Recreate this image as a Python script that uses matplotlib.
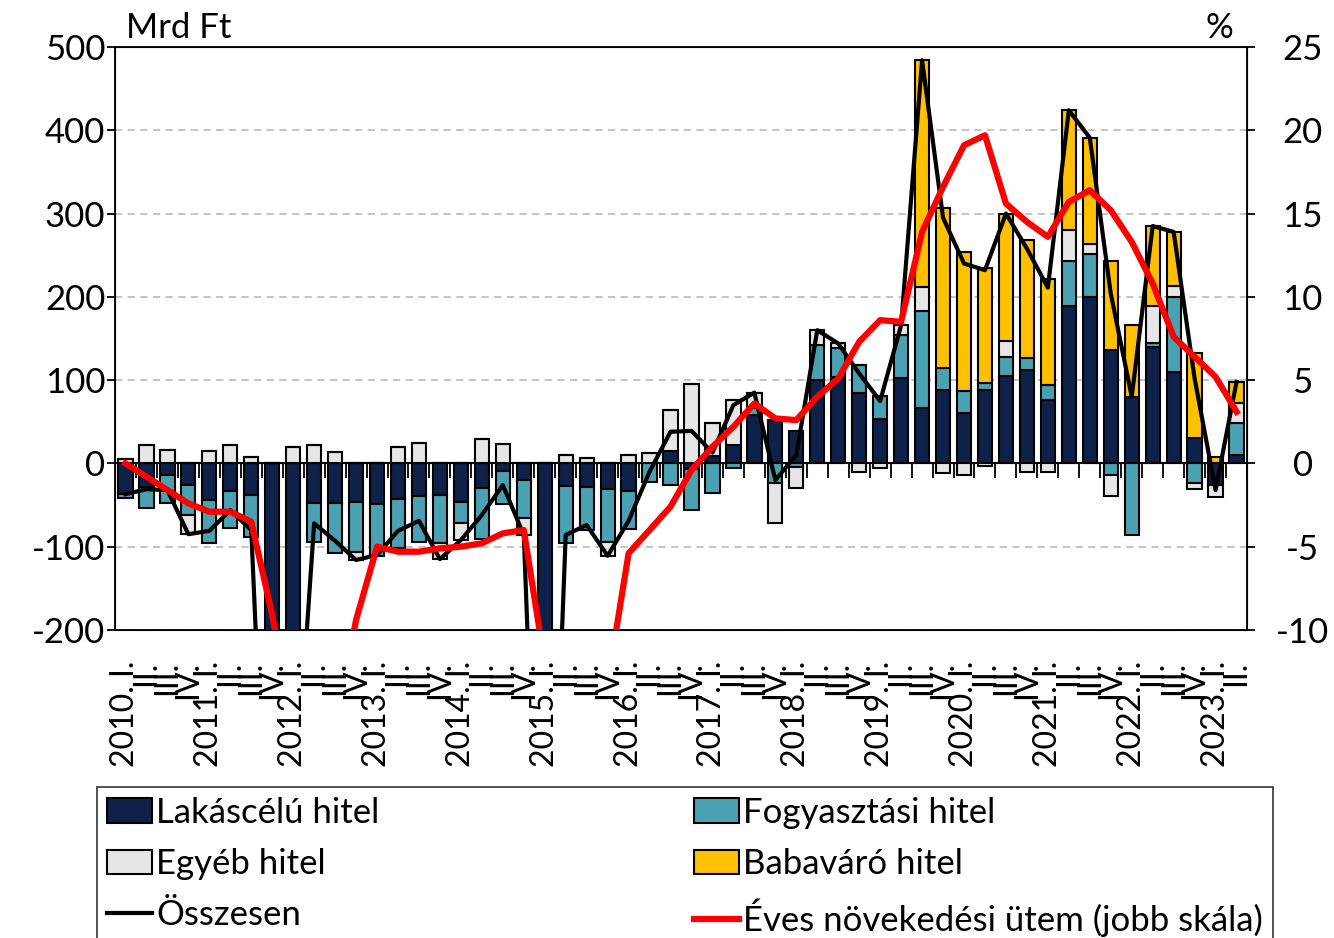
import matplotlib
matplotlib.use('Agg')
import matplotlib.pyplot as plt
import numpy as np
from matplotlib.patches import Patch
from matplotlib.lines import Line2D

plt.rcParams['font.family'] = ['Lato', 'DejaVu Sans']
plt.rcParams['axes.unicode_minus'] = False

# quarterly flows, Mrd Ft (2010 Q1 .. 2023 Q2)
lakas = [-37, -28, -14, -26, -44, -33, -38, -620, -430, -47, -48, -46, -49, -43,
         -39, -38, -46, -30, -9, -20, -720, -27, -28, -31, -33, 0, 15, -7,
         9, 22, 58, 52, 39, 100, 104, 84, 53, 102, 67, 88, 60, 88, 105, 112,
         76, 189, 200, 136, 80, 140, 110, 31, -26, 10]
fogyasztasi = [-5, -25, -34, -36, -52, -45, -50, -30, -30, -47, -59, -60, -62, -58,
               -55, -58, -25, -61, -40, -46, -20, -69, -52, -63, -46, -22, -26, -49,
               -35, -6, 8, -24, -4, 42, 34, 34, 28, 52, 116, 27, 27, 8, 23, 14,
               18, 54, 52, -14, -86, 5, 90, -24, 0, 39]
egyeb = [5, 22, 16, -23, 15, 22, 8, 0, 20, 22, 14, -10, 1, 20,
         25, -19, -21, 29, 23, -20, 0, 10, 6, -17, 10, 12, 49, 95,
         39, 54, 19, -48, -25, 18, 6, -10, -6, 12, 29, -12, -14, -3, 19, -10,
         -10, 37, 11, -25, 0, 44, 13, -7, -14, 23]
babavaro = [0] * 38 + [272, 192, 167, 139, 153, 142, 127, 144, 128, 107, 86, 96, 65, 102, 8, 26]

# annual growth rate, % (right scale)
eves = [0.0, -0.8, -1.6, -2.4, -2.9, -2.9, -3.5, -9.1, -16.0, -16.5, -16.0, -9.4, -5.0, -5.3,
        -5.3, -5.1, -5.0, -4.8, -4.2, -4.0, -12.0, -13.0, -13.5, -13.2, -5.4, -4.0, -2.6, -0.4,
        1.0, 2.2, 3.6, 2.7, 2.6, 4.0, 5.1, 7.3, 8.6, 8.5, 13.9, 16.6, 19.1, 19.7, 15.6, 14.5,
        13.6, 15.7, 16.4, 15.2, 13.3, 10.8, 7.6, 6.4, 5.2, 3.1]

years = list(range(2010, 2024))
romans = ['I.', 'II.', 'III.', 'IV.']
tick_labels = []
for y in years:
    for i, r in enumerate(romans):
        tick_labels.append('%d. %s' % (y, r) if i == 0 else r)
tick_labels = tick_labels[:len(lakas)]

series = [('Lakáscélú hitel', lakas, '#0D2149'),
          ('Fogyasztási hitel', fogyasztasi, '#4AA1B1'),
          ('Egyéb hitel', egyeb, '#E6E6E6'),
          ('Babaváró hitel', babavaro, '#FFC000')]

x = np.arange(len(lakas))
total = np.sum([np.array(s[1]) for s in series], axis=0)

fig = plt.figure(figsize=(13.34, 9.38), dpi=100)
ax = fig.add_axes([0.0862, 0.3284, 0.8486, 0.6215])

pos_bottom = np.zeros(len(x))
neg_bottom = np.zeros(len(x))
for name, vals, col in series:
    v = np.array(vals, dtype=float)
    bottom = np.where(v >= 0, pos_bottom, neg_bottom)
    ax.bar(x, v, 0.68, bottom=bottom, color=col, edgecolor='black', linewidth=1.5, zorder=3)
    pos_bottom = pos_bottom + np.where(v > 0, v, 0)
    neg_bottom = neg_bottom + np.where(v < 0, v, 0)

ax.plot(x, total, color='black', linewidth=3.0, zorder=5)

ax.axhline(0, color='black', linewidth=1.5, zorder=2)
ax.plot(np.arange(len(x) + 1) - 0.5, np.zeros(len(x) + 1), linestyle='none',
        marker=3, markersize=11, markeredgewidth=1.3, color='black', zorder=2)

ax.set_xlim(-0.5, len(x) - 0.5)
ax.set_ylim(-200, 500)
ax.set_yticks(range(-200, 501, 100))
ax.yaxis.grid(True, linestyle=(0, (4, 3)), color='#BFBFBF', linewidth=1.3)
ax.set_axisbelow(True)
ax.set_xticks(x)
ax.set_xticklabels(tick_labels, rotation=90, fontsize=23)
ax.tick_params(axis='x', length=0, pad=22)
ax.tick_params(axis='y', labelsize=25, length=6, width=1.3, direction='out', pad=1)
for sp in ax.spines.values():
    sp.set_linewidth(1.3)

ax2 = ax.twinx()
ax2.plot(x, eves, color='#FF0000', linewidth=4.5, zorder=6)
ax2.set_ylim(-10, 25)
ax2.set_yticks(range(-10, 26, 5))
ax2.tick_params(axis='y', labelsize=25, length=6, width=1.3, direction='out', pad=34)
for lab in ax2.get_yticklabels():
    lab.set_horizontalalignment('center')

ax.text(0.01, 1.005, 'Mrd Ft', transform=ax.transAxes, fontsize=25, ha='left', va='bottom')
ax.text(0.988, 1.005, '%', transform=ax.transAxes, fontsize=25, ha='right', va='bottom')

patch = {name: Patch(facecolor=col, edgecolor='black', linewidth=1.5) for name, vals, col in series}
handles = [patch['Lakáscélú hitel'], patch['Egyéb hitel'],
           Line2D([0], [0], color='black', linewidth=3.0),
           patch['Fogyasztási hitel'], patch['Babaváró hitel'],
           Line2D([0], [0], color='#FF0000', linewidth=4.5)]
names = ['Lakáscélú hitel', 'Egyéb hitel', 'Összesen',
         'Fogyasztási hitel', 'Babaváró hitel', 'Éves növekedési ütem (jobb skála)']
leg = fig.legend(handles, names, loc='upper left', ncol=2, mode='expand',
                 bbox_to_anchor=(97 / 1334, 1 - 787 / 938, 1176 / 1334, 0.0),
                 fontsize=25, frameon=True, fancybox=False, edgecolor='black',
                 borderpad=0.28, labelspacing=0.55, handlelength=1.3,
                 handletextpad=0.12, borderaxespad=0)
leg.get_frame().set_linewidth(1.2)

fig.savefig('out.png', dpi=100)
